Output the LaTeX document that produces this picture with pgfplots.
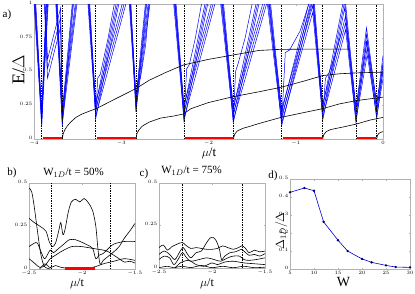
\documentclass[border=0pt]{standalone}
\usepackage{pgfplots}
\usepackage{pgfplotstable}
\pgfplotsset{compat=1.18}
\usepackage{fontspec}
\setmainfont{Liberation Serif}

\pgfplotsset{
  mystyle/.style={
    scale only axis,
    anchor=south west,
    axis line style={gray!60, line width=0.4pt},
    tick style={gray!60, line width=0.3pt},
    major tick length=1.5pt,
    tick align=inside,
    tick label style={font=\fontsize{4}{4}\selectfont, text=black, inner sep=0.3pt},
    xticklabel style={yshift=-1.6pt},
    yticklabel style={xshift=-1.2pt, yshift=1.3pt},
  },
}

\pgfplotstableread{
x y
-4 1.15
-3.912 0.09
-3.8015 1.86
-3.676 0.10
-3.439 1.76
-3.293 0.15
-2.925 1.33
-2.831 0.20
-2.524 2.2
-2.281 0.13
-1.894 1.37
-1.716 0.12
-1.342 1.24
-1.161 0.10
-0.8025 1.03
-0.691 0.14
-0.439 0.972
-0.310 0.12
-0.189 0.724
-0.072 0.15
0 0.517
}\bandA

\pgfplotstableread{
x y
-4 0.99
-3.912 0.09
-3.794 1.505
-3.676 0.10
-3.427 1.406
-3.293 0.15
-2.915 1.057
-2.831 0.20
-2.509 1.771
-2.281 0.13
-1.8796 1.093
-1.716 0.12
-1.3277 0.994
-1.161 0.10
-0.8054 0.918
-0.691 0.14
-0.4293 0.789
-0.310 0.12
-0.1809 0.604
-0.072 0.15
0 0.426
}\bandB

\pgfplotstableread{
x y
-3.885 1.05
-3.845 0.45
-3.695 0.83
-3.676 0.12
}\bandC

\begin{document}
\begin{tikzpicture}
\useasboundingbox (0,0) rectangle (415pt,293pt);

% ---------------- panel a
\begin{axis}[mystyle, at={(34pt,154pt)}, width=349pt, height=135pt,
  xmin=-4, xmax=0, ymin=0, ymax=1,
  xtick={-4,-3,-2,-1,0}, ytick={0,0.25,0.5,0.75,1}]
\pgfplotsinvokeforeach{0,0.05,0.1}{
  \addplot[blue, line width=0.5pt] table[x=x, y expr=\thisrow{y}+#1] {\bandA};
}
\pgfplotsinvokeforeach{0.02,0.07,0.12}{
  \addplot[blue, line width=0.5pt] table[x=x, y expr=\thisrow{y}+#1] {\bandB};
}
\pgfplotsinvokeforeach{0,0.07,0.14}{
  \addplot[blue, line width=0.5pt] table[x=x, y expr=\thisrow{y}+#1] {\bandC};
}
% knees of the bands where they meet the gap curves
\addplot[blue, line width=0.5pt] coordinates {(-3.293,0.16) (-3.27,0.45) (-3.24,0.48) (-3.15,0.75) (-3.08,1.0)};
\addplot[blue, line width=0.5pt] coordinates {(-2.831,0.21) (-2.81,0.42) (-2.78,0.45) (-2.72,0.7) (-2.68,1.0)};
\addplot[blue, line width=0.5pt] coordinates {(-2.281,0.14) (-2.25,0.52) (-2.22,0.55) (-2.15,0.75) (-2.08,1.0)};
\addplot[blue, line width=0.5pt] coordinates {(-1.716,0.13) (-1.69,0.5) (-1.66,0.56) (-1.58,0.75) (-1.5,1.0)};
\addplot[blue, line width=0.5pt] coordinates {(-1.161,0.12) (-1.12,0.64) (-1.07,0.66) (-0.95,0.8) (-0.85,1.0)};
\addplot[blue, line width=0.5pt] coordinates {(-0.691,0.15) (-0.66,0.45) (-0.62,0.49) (-0.55,0.62) (-0.47,0.8)};
% black gap curves
\addplot[black, line width=0.6pt] coordinates {(-3.676,0) (-3.665,0.04) (-3.645,0.07) (-3.62,0.095) (-3.58,0.125) (-3.52,0.16) (-3.45,0.185) (-3.37,0.205) (-3.28,0.227) (-3.18,0.26) (-3.08,0.293) (-2.95,0.335) (-2.82,0.378) (-2.68,0.435) (-2.5,0.49) (-2.29,0.548) (-2.0,0.59) (-1.72,0.622) (-1.42,0.656) (-1.18,0.664) (-0.8,0.666) (-0.39,0.666)};
\addplot[black, line width=0.6pt] coordinates {(-2.831,0) (-2.82,0.04) (-2.8,0.065) (-2.76,0.095) (-2.68,0.125) (-2.55,0.155) (-2.4,0.17) (-2.29,0.185) (-2.2,0.225) (-2.0,0.27) (-1.72,0.313) (-1.42,0.35) (-1.17,0.383) (-0.9,0.43) (-0.69,0.47) (-0.5,0.483) (-0.3,0.49) (0,0.495)};
\addplot[black, line width=0.6pt] coordinates {(-1.716,0) (-1.70,0.035) (-1.67,0.06) (-1.6,0.08) (-1.52,0.095) (-1.42,0.115) (-1.17,0.16) (-0.95,0.19) (-0.69,0.225) (-0.5,0.26) (-0.3,0.285) (0,0.31)};
\addplot[black, line width=0.6pt] coordinates {(-0.691,0) (-0.68,0.03) (-0.65,0.055) (-0.6,0.07) (-0.45,0.09) (-0.31,0.11) (-0.15,0.14) (0,0.16)};
\addplot[black, line width=0.6pt] coordinates {(-0.072,0) (-0.065,0.025) (-0.05,0.04) (-0.03,0.048) (0,0.055)};
% dashed phase boundaries
\pgfplotsinvokeforeach{-3.912,-3.676,-3.293,-2.831,-2.281,-1.716,-1.161,-0.691,-0.310,-0.072}{
  \addplot[black, line width=0.6pt, dash pattern=on 1.5pt off 1pt] coordinates {(#1,0) (#1,1)};
}
% red topological regions
\addplot[red, line width=2.4pt] coordinates {(-3.90,0.008) (-3.676,0.008)};
\addplot[red, line width=2.4pt] coordinates {(-3.28,0.008) (-2.831,0.008)};
\addplot[red, line width=2.4pt] coordinates {(-2.27,0.008) (-1.716,0.008)};
\addplot[red, line width=2.4pt] coordinates {(-1.15,0.008) (-0.691,0.008)};
\addplot[red, line width=2.4pt] coordinates {(-0.30,0.008) (-0.075,0.008)};
\end{axis}

% ---------------- panel b
\begin{axis}[mystyle, at={(29pt,24pt)}, width=106pt, height=86pt,
  xmin=-2.5, xmax=-1.5, ymin=0, ymax=0.5,
  xtick={-2.5,-2,-1.5}, ytick={0,0.25,0.5}]
\addplot[black, line width=0.6pt, smooth] coordinates {(-2.5,0.47) (-2.475,0.45) (-2.45,0.36) (-2.42,0.22) (-2.39,0.09) (-2.36,0.02) (-2.33,0.005) (-2.3,0.0)};
\addplot[black, line width=0.6pt, smooth] coordinates {(-2.5,0.295) (-2.45,0.27) (-2.4,0.25) (-2.34,0.22) (-2.31,0.16) (-2.28,0.13) (-2.25,0.15) (-2.22,0.22) (-2.2,0.27) (-2.18,0.2) (-2.16,0.23) (-2.13,0.33) (-2.1,0.39) (-2.06,0.405) (-2.02,0.39) (-1.98,0.41) (-1.94,0.385) (-1.9,0.34) (-1.87,0.25) (-1.85,0.12) (-1.83,0.03) (-1.8,0.05) (-1.75,0.075) (-1.7,0.1) (-1.65,0.13) (-1.6,0.18) (-1.55,0.22) (-1.5,0.265)};
\addplot[black, line width=0.6pt, smooth] coordinates {(-2.5,0.13) (-2.45,0.15) (-2.42,0.15) (-2.38,0.09) (-2.35,0.06) (-2.3,0.11) (-2.27,0.095) (-2.22,0.12) (-2.18,0.14) (-2.12,0.17) (-2.06,0.17) (-2.0,0.155) (-1.95,0.14) (-1.9,0.12) (-1.87,0.06) (-1.84,0.08) (-1.8,0.09) (-1.75,0.12) (-1.7,0.145) (-1.6,0.16) (-1.5,0.16)};
\addplot[black, line width=0.6pt, smooth] coordinates {(-2.5,0.06) (-2.45,0.035) (-2.4,0.01) (-2.35,0.02) (-2.3,0.06) (-2.25,0.08) (-2.2,0.1) (-2.1,0.13) (-2.0,0.13) (-1.9,0.12) (-1.8,0.11) (-1.75,0.1) (-1.7,0.08) (-1.65,0.06) (-1.6,0.04) (-1.55,0.045) (-1.5,0.035)};
\addplot[black, line width=0.6pt, smooth] coordinates {(-2.4,0.0) (-2.35,0.03) (-2.3,0.008) (-2.25,0.02) (-2.2,0.01) (-2.1,0.003) (-1.9,0.01) (-1.8,0.03) (-1.7,0.045) (-1.6,0.06) (-1.5,0.05)};
\pgfplotsinvokeforeach{-2.2875,-1.734}{
  \addplot[black, line width=0.5pt, dash pattern=on 1.5pt off 1pt] coordinates {(#1,0) (#1,0.5)};
}
\addplot[red, line width=2.4pt] coordinates {(-2.1625,0.004) (-1.875,0.004)};
\end{axis}

% ---------------- panel c
\begin{axis}[mystyle, at={(159pt,25pt)}, width=106pt, height=85pt,
  xmin=-2.5, xmax=-1.5, ymin=0, ymax=0.5,
  xtick={-2.5,-2,-1.5}, ytick={0,0.25,0.5}]
\addplot[black, line width=0.6pt, smooth] coordinates {(-2.5,0.12) (-2.46,0.135) (-2.42,0.105) (-2.38,0.125) (-2.33,0.14) (-2.28,0.15) (-2.25,0.135) (-2.2,0.115) (-2.15,0.12) (-2.1,0.115) (-2.05,0.11) (-2.0,0.11) (-1.95,0.115) (-1.9,0.13) (-1.85,0.12) (-1.8,0.11) (-1.75,0.12) (-1.72,0.13) (-1.69,0.12) (-1.65,0.09) (-1.6,0.105) (-1.55,0.095) (-1.5,0.1)};
\addplot[black, line width=0.6pt, smooth] coordinates {(-2.5,0.08) (-2.45,0.1) (-2.4,0.08) (-2.35,0.05) (-2.3,0.1) (-2.27,0.12) (-2.24,0.09) (-2.2,0.06) (-2.15,0.09) (-2.1,0.1) (-2.06,0.14) (-2.02,0.175) (-1.99,0.18) (-1.96,0.16) (-1.93,0.11) (-1.91,0.05) (-1.88,0.07) (-1.83,0.09) (-1.78,0.095) (-1.72,0.11) (-1.7,0.1) (-1.65,0.075) (-1.6,0.08) (-1.55,0.07) (-1.5,0.085)};
\addplot[black, line width=0.6pt, smooth] coordinates {(-2.5,0.05) (-2.45,0.07) (-2.4,0.06) (-2.36,0.02) (-2.32,0.05) (-2.28,0.09) (-2.24,0.06) (-2.2,0.04) (-2.12,0.05) (-2.05,0.06) (-1.98,0.05) (-1.92,0.04) (-1.85,0.06) (-1.8,0.07) (-1.74,0.07) (-1.7,0.05) (-1.65,0.045) (-1.58,0.05) (-1.5,0.06)};
\addplot[black, line width=0.6pt, smooth] coordinates {(-2.5,0.002) (-2.42,0.01) (-2.35,0.002) (-2.3,0.03) (-2.22,0.045) (-2.15,0.02) (-2.08,0.01) (-2.0,0.03) (-1.95,0.02) (-1.88,0.035) (-1.8,0.04) (-1.7,0.03) (-1.6,0.025) (-1.5,0.02)};
\addplot[black, line width=0.6pt, smooth] coordinates {(-2.35,0.002) (-2.28,0.01) (-2.2,0.002) (-2.1,0.015) (-2.0,0.002) (-1.9,0.01) (-1.8,0.002) (-1.7,0.01) (-1.6,0.002) (-1.5,0.005)};
\pgfplotsinvokeforeach{-2.279,-1.711}{
  \addplot[black, line width=0.5pt, dash pattern=on 1.5pt off 1pt] coordinates {(#1,0) (#1,0.5)};
}
\end{axis}

% ---------------- panel d
\begin{axis}[mystyle, at={(290pt,24pt)}, width=120pt, height=90pt,
  xmin=5, xmax=30, ymin=0, ymax=0.5,
  xtick={5,10,15,20,25,30}, ytick={0,0.1,0.2,0.3,0.4,0.5},
  tick label style={font=\fontsize{4.5}{4.5}\selectfont}]
\addplot[blue!85!black, line width=0.6pt, mark=*, mark size=0.9pt,
  mark options={draw=blue!35!black, fill=blue!35!black}] coordinates {(5,0.426) (8,0.45) (10,0.435) (12,0.262) (15,0.16) (17,0.1) (20,0.056) (22,0.037) (25,0.02) (27,0.011) (30,0.009)};
\end{axis}

% ---------------- labels
\node[font=\fontsize{11}{11}\selectfont] at (7pt,278pt) {a)};
\node[font=\fontsize{18}{18}\selectfont, rotate=90] at (18.5pt,223pt) {E/$\Delta$};
\node[font=\fontsize{13}{13}\selectfont] at (209pt,140pt) {$\mu$/t};

\node[font=\fontsize{11}{11}\selectfont] at (12pt,120pt) {b)};
\node[font=\fontsize{11}{11}\selectfont] at (73.5pt,120.5pt) {W$_{1D}$/t = 50\%};
\node[font=\fontsize{12}{12}\selectfont] at (77pt,9pt) {$\mu$/t};

\node[font=\fontsize{11}{11}\selectfont] at (144pt,119pt) {c)};
\node[font=\fontsize{11}{11}\selectfont] at (191.5pt,122.5pt) {W$_{1D}$/t = 75\%};
\node[font=\fontsize{12}{12}\selectfont] at (207pt,9pt) {$\mu$/t};

\node[font=\fontsize{11}{11}\selectfont] at (273pt,117pt) {d)};
\node[font=\fontsize{12}{12}\selectfont, rotate=90] at (281pt,62pt) {$\Delta_{1D}/\Delta$};
\node[font=\fontsize{14}{14}\selectfont] at (343.5pt,11pt) {W};
\end{tikzpicture}
\end{document}
